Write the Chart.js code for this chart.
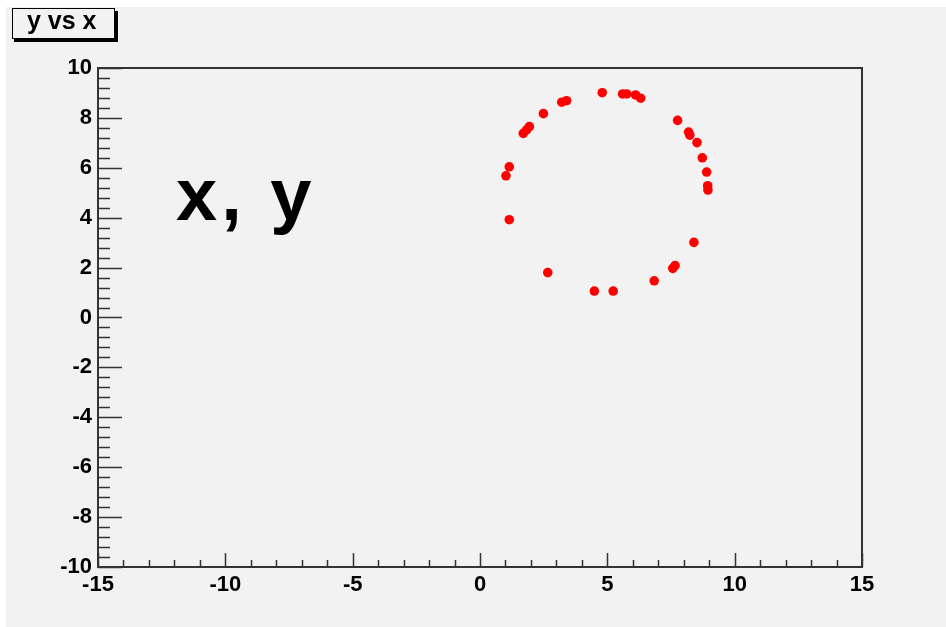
<!DOCTYPE html>
<html>
<head>
<meta charset="utf-8">
<script src="https://cdn.jsdelivr.net/npm/chart.js@4.4.1/dist/chart.umd.min.js"></script>
<style>
  html, body { margin: 0; padding: 0; background: #ffffff; }
  #wrap { width: 946px; height: 627px; }
</style>
</head>
<body>
<div id="wrap"><canvas id="chart" width="946" height="627"></canvas></div>
<script>
// points of the "y vs x" graph
const xValues = [4.80, 5.60, 5.76, 6.11, 6.31, 3.21, 3.40, 2.49, 1.70, 1.83,
                 1.94, 7.76, 8.19, 8.24, 8.52, 8.73, 8.90, 8.94, 8.95, 1.15,
                 1.02, 1.15, 8.40, 7.57, 7.66, 6.84, 2.66, 4.49, 5.23];
const yValues = [9.01, 8.96, 8.96, 8.92, 8.79, 8.63, 8.69, 8.17, 7.38, 7.52,
                 7.65, 7.90, 7.43, 7.31, 7.01, 6.40, 5.83, 5.28, 5.11, 6.04,
                 5.68, 3.92, 3.01, 1.97, 2.08, 1.47, 1.80, 1.06, 1.06];

const xRange = [-15, 15];
const yRange = [-10, 10];
const xMajor = 5, xMinor = 1;
const yMajor = 2, yMinor = 0.4;

const titleText = 'y vs x';
const bigLabel = 'x, y';

const FONT = "'Liberation Sans', Arial, Helvetica, sans-serif";

const points = xValues.map((x, i) => ({ x: x, y: yValues[i] }));

// background, frame, inward ticks, title box and the big label
const rootStyle = {
    id: 'rootStyle',
    beforeDraw(chart) {
        const ctx = chart.ctx;
        ctx.save();
        ctx.fillStyle = '#ffffff';
        ctx.fillRect(0, 0, chart.width, chart.height);
        ctx.fillStyle = '#f2f2f2';
        ctx.fillRect(6, 7, chart.width - 6, chart.height - 7);
        ctx.restore();
    },
    beforeDatasetsDraw(chart) {
        const ctx = chart.ctx;
        const a = chart.chartArea;
        const xs = chart.scales.x, ys = chart.scales.y;
        ctx.save();
        ctx.strokeStyle = '#333333';
        ctx.lineWidth = 1.5;

        // x ticks pointing up from the bottom axis
        ctx.beginPath();
        for (let v = xRange[0]; v <= xRange[1] + 1e-9; v += xMinor) {
            const px = Math.round(xs.getPixelForValue(v)) + 0.5;
            const isMajor = Math.abs(v / xMajor - Math.round(v / xMajor)) < 1e-6;
            const len = isMajor ? 14 : 7;
            ctx.moveTo(px, a.bottom);
            ctx.lineTo(px, a.bottom - len);
        }
        // y ticks pointing right from the left axis
        for (let v = yRange[0]; v <= yRange[1] + 1e-9; v += yMinor) {
            const py = Math.round(ys.getPixelForValue(v)) + 0.5;
            const isMajor = Math.abs(v / yMajor - Math.round(v / yMajor)) < 1e-6;
            const len = isMajor ? 24 : 12;
            ctx.moveTo(a.left, py);
            ctx.lineTo(a.left + len, py);
        }
        ctx.stroke();

        // frame
        ctx.lineWidth = 2;
        ctx.strokeRect(a.left, a.top, a.right - a.left, a.bottom - a.top);

        // big label inside the frame
        ctx.fillStyle = '#000000';
        ctx.font = 'bold 74px ' + FONT;
        ctx.textBaseline = 'alphabetic';
        ctx.textAlign = 'left';
        if ('letterSpacing' in ctx) ctx.letterSpacing = '4px';
        ctx.fillText(bigLabel, 176, 220);
        if ('letterSpacing' in ctx) ctx.letterSpacing = '0px';

        // title box with shadow
        ctx.fillStyle = '#000000';
        ctx.fillRect(14, 11, 104, 31);
        ctx.fillStyle = '#f2f2f2';
        ctx.fillRect(12, 8, 103, 31);
        ctx.lineWidth = 1;
        ctx.strokeStyle = '#000000';
        ctx.strokeRect(12.5, 8.5, 102, 30);
        ctx.fillStyle = '#000000';
        ctx.font = 'bold 25px ' + FONT;
        ctx.fillText(titleText, 27, 29);
        ctx.restore();
    }
};

const ctx = document.getElementById('chart').getContext('2d');
new Chart(ctx, {
    type: 'scatter',
    data: {
        datasets: [{
            data: points,
            backgroundColor: '#ff0000',
            borderColor: '#ff0000',
            pointRadius: 4.8,
            pointBorderWidth: 0
        }]
    },
    options: {
        responsive: false,
        animation: false,
        events: [],
        layout: { padding: { left: 0, top: 68, right: 84, bottom: 0 } },
        plugins: { legend: { display: false }, tooltip: { enabled: false } },
        scales: {
            x: {
                type: 'linear',
                min: xRange[0],
                max: xRange[1],
                grid: { display: false, drawTicks: false, tickLength: 0 },
                border: { display: false },
                afterFit(s) { s.height = 60; },
                ticks: {
                    stepSize: xMajor,
                    padding: 5,
                    color: '#000000',
                    maxRotation: 0,
                    font: { family: FONT, size: 22, weight: 'bold' }
                }
            },
            y: {
                type: 'linear',
                min: yRange[0],
                max: yRange[1],
                grid: { display: false, drawTicks: false, tickLength: 0 },
                border: { display: false },
                afterFit(s) { s.width = 98; },
                ticks: {
                    stepSize: yMajor,
                    padding: 6,
                    color: '#000000',
                    font: { family: FONT, size: 22, weight: 'bold' }
                }
            }
        }
    },
    plugins: [rootStyle]
});
</script>
</body>
</html>
